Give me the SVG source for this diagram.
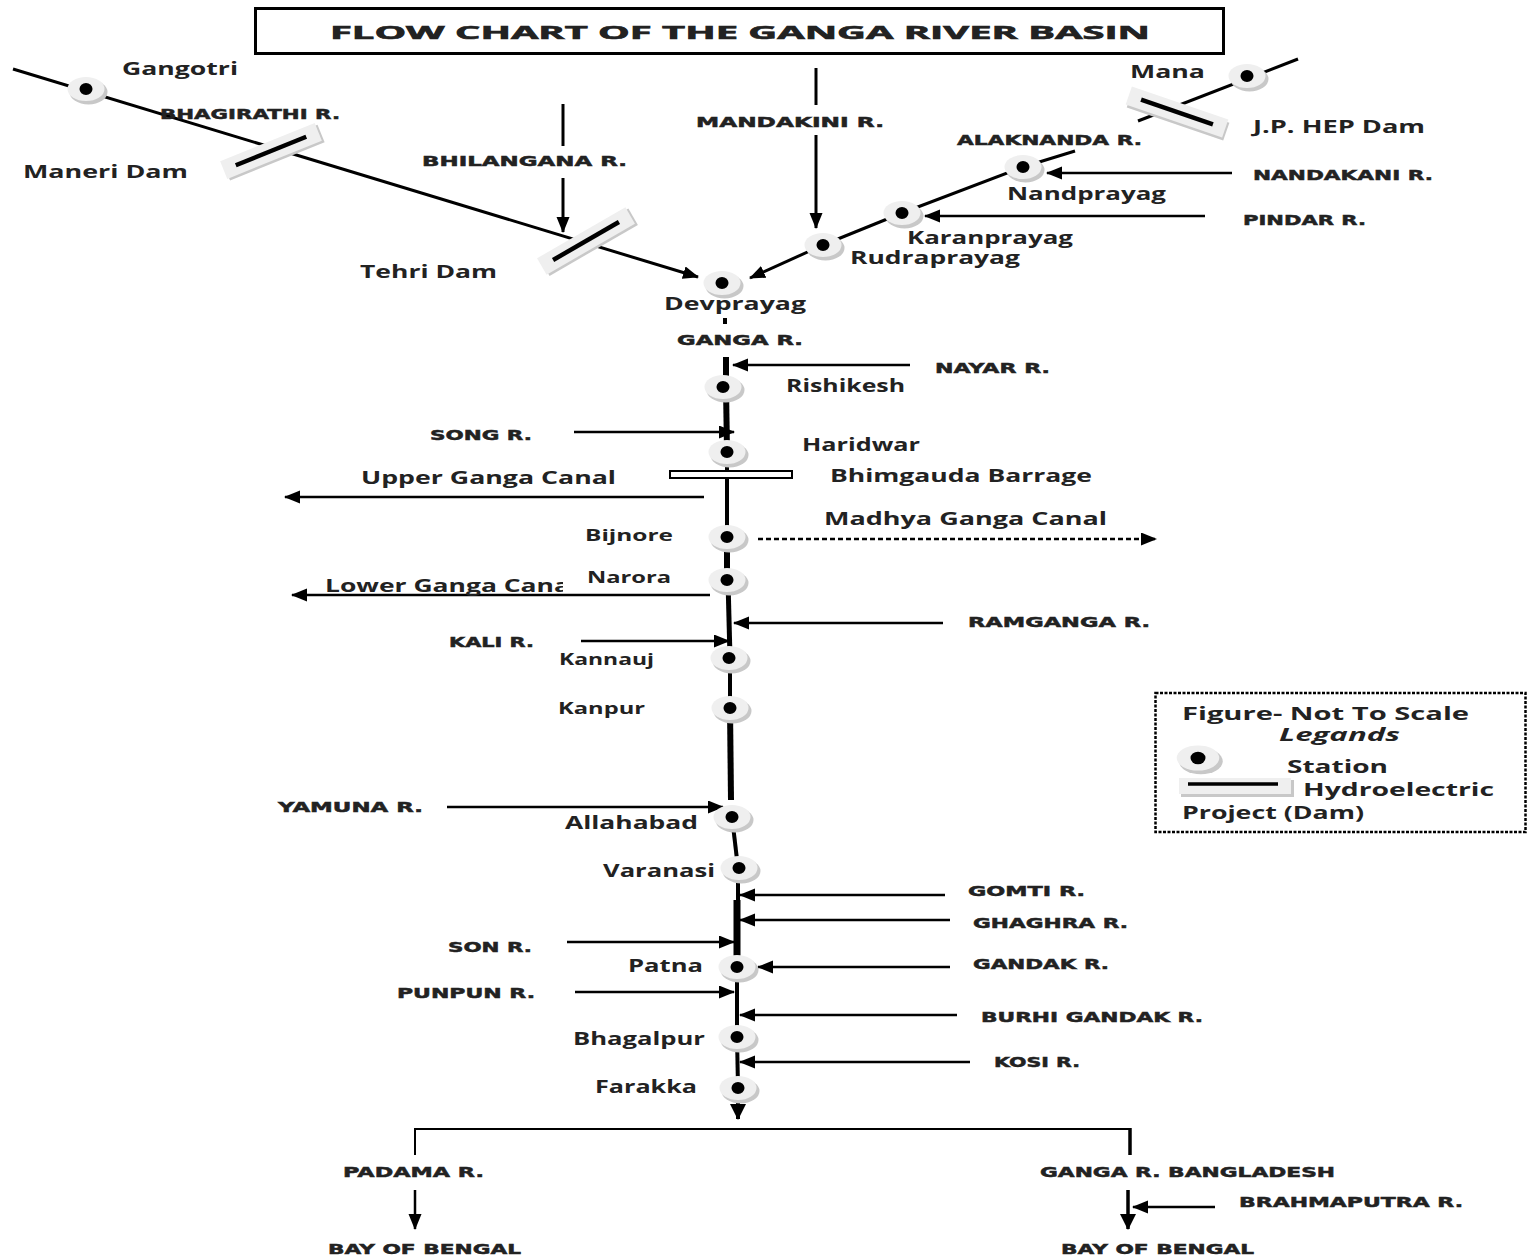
<svg xmlns="http://www.w3.org/2000/svg" xmlns:xlink="http://www.w3.org/1999/xlink" width="1528" height="1256" viewBox="0 0 1528 1256">
<style>
.t{font-family:"Open Sans","Liberation Sans",sans-serif;font-weight:bold;fill:#222;font-size:17px}
.c{font-family:"DejaVu Sans","Liberation Sans",sans-serif;font-weight:bold;fill:#222;font-size:14.5px;stroke:#222;stroke-width:0.5}
.s{font-size:15.5px}
.r{stroke:#000;stroke-width:3;fill:none}
.a{stroke:#000;stroke-width:2.5;fill:none;marker-end:url(#ah)}
.m{stroke:#000;fill:none}
</style>
<defs>
<marker id="ah" markerUnits="userSpaceOnUse" markerWidth="18" markerHeight="14" refX="15" refY="6.5" orient="auto"><path d="M0,0 L16,6.5 L0,13 Z" fill="#000"/></marker>
<marker id="ahb" markerUnits="userSpaceOnUse" markerWidth="20" markerHeight="18" refX="15" refY="8" orient="auto"><path d="M0,0 L16,8 L0,16 Z" fill="#000"/></marker>
<g id="station"><ellipse cx="2.5" cy="3" rx="19" ry="12.5" fill="#c8c8c8"/><ellipse cx="0" cy="0" rx="18.5" ry="12" fill="#efefef"/><ellipse cx="0" cy="0" rx="6.5" ry="6" fill="#000"/></g>
<g id="dam"><rect x="-49" y="-7" width="102" height="19" fill="#c8c8c8"/><rect x="-51" y="-9.5" width="102" height="19" fill="#efefef"/><line x1="-38" y1="0" x2="38" y2="0" stroke="#000" stroke-width="4.5"/></g>
<clipPath id="lgc"><rect x="300" y="570" width="263" height="30"/></clipPath>
</defs>
<rect width="1528" height="1256" fill="#fff"/>

<g id="title">
<rect x="255.5" y="8.5" width="968" height="45" fill="#fff" stroke="#000" stroke-width="3"/>
<text class="t" x="330" y="39" font-size="22.5" stroke="#222" stroke-width="0.6" textLength="820" lengthAdjust="spacingAndGlyphs">FLOW CHART OF THE GANGA RIVER BASIN</text>
</g>

<g id="connectors">
<line class="r" x1="13" y1="69" x2="698" y2="277" marker-end="url(#ah)"/>
<line class="r" x1="563" y1="104" x2="563" y2="146"/>
<line class="r" x1="563" y1="178" x2="563" y2="232" marker-end="url(#ah)"/>
<line class="r" x1="816" y1="68" x2="816" y2="105"/>
<line class="r" x1="816" y1="135" x2="816" y2="228" marker-end="url(#ah)"/>
<line class="r" x1="1298" y1="59" x2="1138" y2="121"/>
<line class="r" x1="1075" y1="151" x2="1023" y2="167"/>
<line class="r" x1="1023" y1="167" x2="902" y2="213"/>
<line class="r" x1="902" y1="213" x2="823" y2="245"/>
<line class="r" x1="823" y1="245" x2="750" y2="278" marker-end="url(#ah)"/>
<line class="a" x1="1232" y1="173" x2="1047" y2="173"/>
<line class="a" x1="1205" y1="216" x2="925" y2="216"/>
<rect x="723" y="318" width="4" height="6" fill="#000"/>
<line class="m" stroke-width="6" x1="726" y1="357" x2="726" y2="387"/>
<line class="m" stroke-width="6" x1="726" y1="387" x2="727" y2="452"/>
<line class="m" stroke-width="4" x1="727" y1="452" x2="727" y2="537"/>
<line class="m" stroke-width="6" x1="727" y1="537" x2="727" y2="580"/>
<line class="m" stroke-width="5" x1="728" y1="580" x2="730" y2="658"/>
<line class="m" stroke-width="4" x1="730" y1="658" x2="730" y2="708"/>
<line class="m" stroke-width="6" x1="730" y1="708" x2="731" y2="800"/>
<line class="m" stroke-width="4" x1="732" y1="817" x2="738" y2="868"/>
<line class="m" stroke-width="4" x1="738" y1="868" x2="738" y2="900"/>
<line class="m" stroke-width="7" x1="737" y1="900" x2="737" y2="967"/>
<line class="m" stroke-width="4" x1="737" y1="967" x2="737" y2="1037"/>
<line class="m" stroke-width="4" x1="737" y1="1037" x2="738" y2="1088"/>
<line class="m" stroke-width="4" x1="738" y1="1088" x2="738" y2="1119" marker-end="url(#ahb)"/>
<line class="a" x1="910" y1="365" x2="733" y2="365"/>
<line class="a" x1="574" y1="432" x2="734" y2="432"/>
<line class="a" x1="704" y1="497" x2="285" y2="497"/>
<line class="m" stroke-width="2.5" stroke-dasharray="5,3" x1="758" y1="539" x2="1156" y2="539" marker-end="url(#ah)"/>
<line class="a" x1="710" y1="595" x2="292" y2="595"/>
<line class="a" x1="943" y1="623" x2="734" y2="623"/>
<line class="a" x1="581" y1="641" x2="729" y2="641"/>
<line class="a" x1="447" y1="807" x2="723" y2="807"/>
<line class="a" x1="945" y1="895" x2="740" y2="895"/>
<line class="a" x1="950" y1="920" x2="740" y2="920"/>
<line class="a" x1="567" y1="942" x2="734" y2="942"/>
<line class="a" x1="950" y1="967" x2="758" y2="967"/>
<line class="a" x1="575" y1="992" x2="734" y2="992"/>
<line class="a" x1="957" y1="1015" x2="740" y2="1015"/>
<line class="a" x1="970" y1="1062" x2="740" y2="1062"/>
<polyline class="m" stroke-width="2" points="415,1155 415,1129 1130,1129"/>
<line class="m" stroke-width="3.5" x1="1130" y1="1128" x2="1130" y2="1155"/>
<line class="a" x1="415" y1="1190" x2="415" y2="1229"/>
<line class="m" stroke-width="3.5" x1="1128" y1="1190" x2="1128" y2="1229" marker-end="url(#ahb)"/>
<line class="a" x1="1215" y1="1207" x2="1133" y2="1207"/>
</g>

<g id="dam-maneri"><use href="#dam" transform="translate(271,151) rotate(-22)"/><text class="t" x="23" y="178" textLength="165" lengthAdjust="spacingAndGlyphs">Maneri Dam</text></g>
<g id="dam-tehri"><use href="#dam" transform="translate(586,241) rotate(-30)"/><text class="t" x="360" y="278" textLength="137" lengthAdjust="spacingAndGlyphs">Tehri Dam</text></g>
<g id="dam-jp"><use href="#dam" transform="translate(1177,112) rotate(19)"/><text class="t" x="1253" y="133" textLength="172" lengthAdjust="spacingAndGlyphs">J.P. HEP Dam</text></g>
<g id="dam-bhimgauda"><rect x="670" y="471" width="122" height="7" fill="#fff" stroke="#000" stroke-width="2"/><line class="m" stroke-width="4" x1="727" y1="478" x2="727" y2="486"/><text class="t" x="830" y="482" textLength="262" lengthAdjust="spacingAndGlyphs">Bhimgauda Barrage</text></g>

<g id="st-gangotri"><use href="#station" x="86" y="89"/><text class="t" x="122" y="75" textLength="116" lengthAdjust="spacingAndGlyphs">Gangotri</text></g>
<g id="st-mana"><use href="#station" x="1247" y="76"/><text class="t" x="1130" y="78" textLength="75" lengthAdjust="spacingAndGlyphs">Mana</text></g>
<g id="st-nandprayag"><use href="#station" x="1023" y="167"/><text class="t" x="1007" y="200" textLength="159" lengthAdjust="spacingAndGlyphs">Nandprayag</text></g>
<g id="st-karanprayag"><use href="#station" x="902" y="213"/><text class="t" x="907" y="244" textLength="166" lengthAdjust="spacingAndGlyphs">Karanprayag</text></g>
<g id="st-rudraprayag"><use href="#station" x="823" y="245"/><text class="t" x="850" y="264" textLength="170" lengthAdjust="spacingAndGlyphs">Rudraprayag</text></g>
<g id="st-devprayag"><use href="#station" x="722" y="283"/><text class="t" x="664" y="310" textLength="142" lengthAdjust="spacingAndGlyphs">Devprayag</text></g>
<g id="st-rishikesh"><use href="#station" x="723" y="387"/><text class="t" x="786" y="392" textLength="119" lengthAdjust="spacingAndGlyphs">Rishikesh</text></g>
<g id="st-haridwar"><use href="#station" x="727" y="452"/><text class="t" x="802" y="451" textLength="118" lengthAdjust="spacingAndGlyphs">Haridwar</text></g>
<g id="st-bijnore"><use href="#station" x="727" y="537"/><text class="t s" x="585" y="541" textLength="88" lengthAdjust="spacingAndGlyphs">Bijnore</text></g>
<g id="st-narora"><use href="#station" x="727" y="580"/><text class="t s" x="587" y="583" textLength="84" lengthAdjust="spacingAndGlyphs">Narora</text></g>
<g id="st-kannauj"><use href="#station" x="729" y="658"/><text class="t s" x="559" y="665" textLength="95" lengthAdjust="spacingAndGlyphs">Kannauj</text></g>
<g id="st-kanpur"><use href="#station" x="730" y="708"/><text class="t s" x="558" y="714" textLength="87" lengthAdjust="spacingAndGlyphs">Kanpur</text></g>
<g id="st-allahabad"><use href="#station" x="732" y="817"/><text class="t" x="565" y="829" textLength="133" lengthAdjust="spacingAndGlyphs">Allahabad</text></g>
<g id="st-varanasi"><use href="#station" x="739" y="868"/><text class="t" x="603" y="877" textLength="112" lengthAdjust="spacingAndGlyphs">Varanasi</text></g>
<g id="st-patna"><use href="#station" x="737" y="967"/><text class="t" x="628" y="972" textLength="75" lengthAdjust="spacingAndGlyphs">Patna</text></g>
<g id="st-bhagalpur"><use href="#station" x="737" y="1037"/><text class="t" x="573" y="1045" textLength="132" lengthAdjust="spacingAndGlyphs">Bhagalpur</text></g>
<g id="st-farakka"><use href="#station" x="738" y="1088"/><text class="t" x="595" y="1093" textLength="102" lengthAdjust="spacingAndGlyphs">Farakka</text></g>

<g id="lbl-bhagirathi"><text class="c" x="160" y="119" textLength="180" lengthAdjust="spacingAndGlyphs">BHAGIRATHI R.</text></g>
<g id="lbl-bhilangana"><text class="c" x="422" y="166" textLength="205" lengthAdjust="spacingAndGlyphs">BHILANGANA R.</text></g>
<g id="lbl-mandakini"><text class="c" x="696" y="127" textLength="188" lengthAdjust="spacingAndGlyphs">MANDAKINI R.</text></g>
<g id="lbl-alaknanda"><text class="c" x="957" y="145" textLength="185" lengthAdjust="spacingAndGlyphs">ALAKNANDA R.</text></g>
<g id="lbl-nandakani"><text class="c" x="1253" y="180" textLength="180" lengthAdjust="spacingAndGlyphs">NANDAKANI R.</text></g>
<g id="lbl-pindar"><text class="c" x="1243" y="225" textLength="123" lengthAdjust="spacingAndGlyphs">PINDAR R.</text></g>
<g id="lbl-ganga"><text class="c" x="677" y="345" textLength="126" lengthAdjust="spacingAndGlyphs">GANGA R.</text></g>
<g id="lbl-nayar"><text class="c" x="935" y="373" textLength="115" lengthAdjust="spacingAndGlyphs">NAYAR R.</text></g>
<g id="lbl-song"><text class="c" x="430" y="440" textLength="102" lengthAdjust="spacingAndGlyphs">SONG R.</text></g>
<g id="lbl-upper-canal"><text class="t" x="361" y="484" textLength="255" lengthAdjust="spacingAndGlyphs">Upper Ganga Canal</text></g>
<g id="lbl-madhya-canal"><text class="t" x="824" y="525" textLength="283" lengthAdjust="spacingAndGlyphs">Madhya Ganga Canal</text></g>
<g id="lbl-lower-canal"><text class="t" x="325" y="592" textLength="253" lengthAdjust="spacingAndGlyphs" clip-path="url(#lgc)">Lower Ganga Canal</text></g>
<g id="lbl-ramganga"><text class="c" x="968" y="627" textLength="182" lengthAdjust="spacingAndGlyphs">RAMGANGA R.</text></g>
<g id="lbl-kali"><text class="c" x="449" y="647" textLength="85" lengthAdjust="spacingAndGlyphs">KALI R.</text></g>
<g id="lbl-yamuna"><text class="c" x="278" y="812" textLength="145" lengthAdjust="spacingAndGlyphs">YAMUNA R.</text></g>
<g id="lbl-gomti"><text class="c" x="968" y="896" textLength="117" lengthAdjust="spacingAndGlyphs">GOMTI R.</text></g>
<g id="lbl-ghaghra"><text class="c" x="973" y="928" textLength="155" lengthAdjust="spacingAndGlyphs">GHAGHRA R.</text></g>
<g id="lbl-son"><text class="c" x="448" y="952" textLength="84" lengthAdjust="spacingAndGlyphs">SON R.</text></g>
<g id="lbl-gandak"><text class="c" x="973" y="969" textLength="136" lengthAdjust="spacingAndGlyphs">GANDAK R.</text></g>
<g id="lbl-punpun"><text class="c" x="397" y="998" textLength="138" lengthAdjust="spacingAndGlyphs">PUNPUN R.</text></g>
<g id="lbl-burhi-gandak"><text class="c" x="981" y="1022" textLength="222" lengthAdjust="spacingAndGlyphs">BURHI GANDAK R.</text></g>
<g id="lbl-kosi"><text class="c" x="994" y="1067" textLength="86" lengthAdjust="spacingAndGlyphs">KOSI R.</text></g>
<g id="lbl-padama"><text class="c" x="343" y="1177" textLength="141" lengthAdjust="spacingAndGlyphs">PADAMA R.</text></g>
<g id="lbl-ganga-bd"><text class="c" x="1040" y="1177" textLength="295" lengthAdjust="spacingAndGlyphs">GANGA R. BANGLADESH</text></g>
<g id="lbl-brahmaputra"><text class="c" x="1239" y="1207" textLength="224" lengthAdjust="spacingAndGlyphs">BRAHMAPUTRA R.</text></g>
<g id="lbl-bay-left"><text class="c" x="328" y="1254" textLength="193" lengthAdjust="spacingAndGlyphs">BAY OF BENGAL</text></g>
<g id="lbl-bay-right"><text class="c" x="1061" y="1254" textLength="193" lengthAdjust="spacingAndGlyphs">BAY OF BENGAL</text></g>

<g id="legend">
<rect x="1155.5" y="693" width="370" height="139" fill="#fff" stroke="#000" stroke-width="2.5" stroke-dasharray="3,1.5"/>
<text class="t" x="1182" y="720" font-size="18" textLength="287" lengthAdjust="spacingAndGlyphs">Figure- Not To Scale</text>
<text class="t" x="1279" y="741" font-size="18" font-style="italic" textLength="121" lengthAdjust="spacingAndGlyphs">Legands</text>
<g transform="translate(1198,758) scale(1.15,1.05)"><use href="#station"/></g>
<text class="t" x="1287" y="773" font-size="19" textLength="101" lengthAdjust="spacingAndGlyphs">Station</text>
<rect x="1181" y="780" width="113" height="17" fill="#c8c8c8"/>
<rect x="1179" y="778" width="112" height="16" fill="#efefef"/>
<line x1="1188" y1="784" x2="1278" y2="784" stroke="#000" stroke-width="3.5"/>
<text class="t" x="1303" y="796" font-size="19" textLength="191" lengthAdjust="spacingAndGlyphs">Hydroelectric</text>
<text class="t" x="1182" y="819" font-size="17" textLength="182" lengthAdjust="spacingAndGlyphs">Project (Dam)</text>
</g>
</svg>
